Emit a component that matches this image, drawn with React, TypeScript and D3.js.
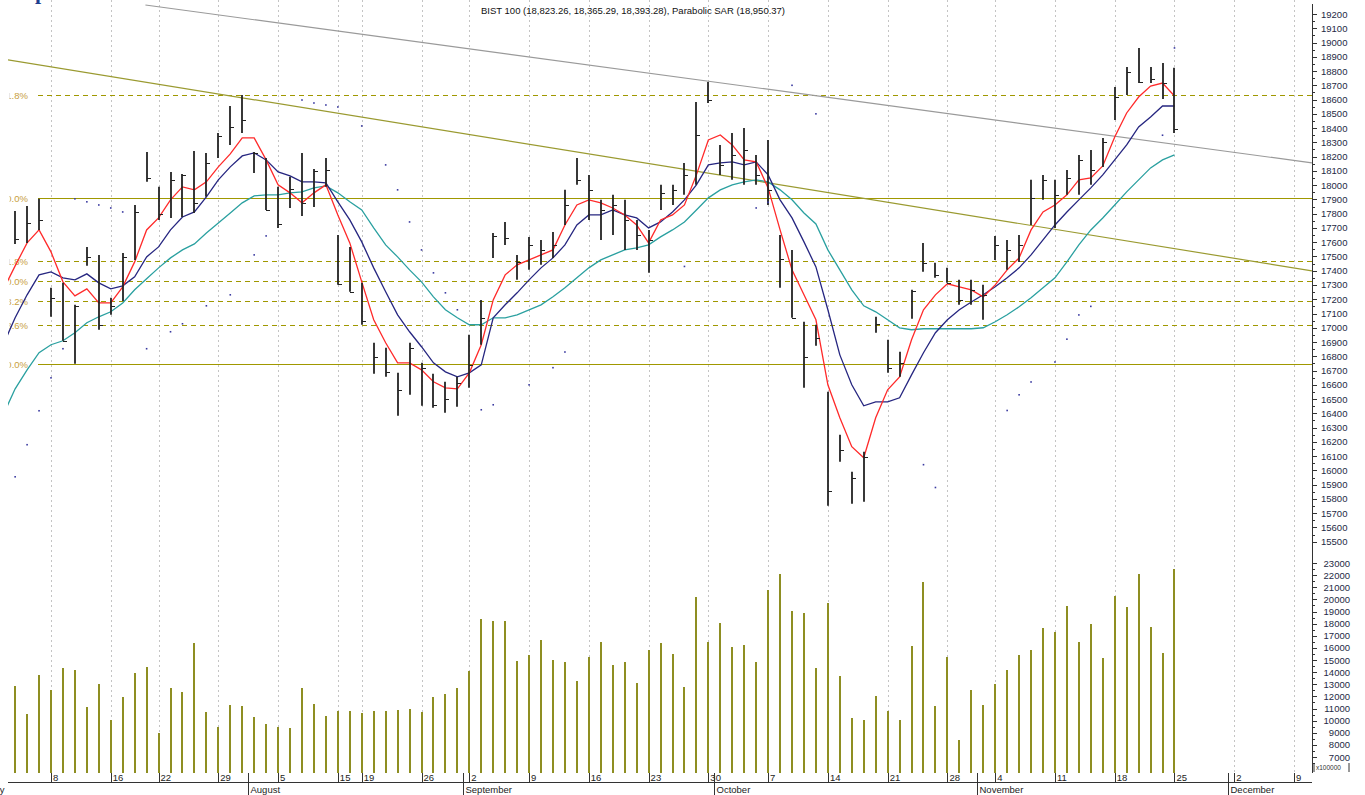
import { line, range, scaleLinear } from "d3";

// trading-day index 0 = 8 July; ticks on the first day of each week
const weekDays = [0, 5, 9, 14, 19, 24, 26, 31, 35, 40, 45, 50, 55, 60, 65, 70, 75, 79, 84, 89, 94, 99, 104];
const weekLabels = ["8", "16", "22", "29", "5", "15", "19", "26", "2", "9", "16", "23", "30", "7", "14", "21", "28", "4", "11", "18", "25", "2", "9"];
const monthDays = [-5, 17, 35, 56, 78, 99];
const monthLabels = ["July", "August", "September", "October", "November", "December"];

const firstBar = -3;
const highs = [17819, 17854, 17904, 17280, 17315, 17161, 17567, 17511, 17210, 17525, 17861, 18233, 17988, 18093, 18079, 18240, 18226, 18366, 18555, 18632, 18233, 18191, 17988, 18058, 18226, 18114, 18191, 17651, 17567, 17315, 16895, 16860, 16684, 16895, 16754, 16677, 16621, 16656, 16951, 17195, 17665, 17742, 17511, 17637, 17616, 17672, 17967, 18191, 18072, 17897, 17932, 17897, 17756, 17686, 18002, 18002, 18156, 18583, 18723, 18282, 18366, 18401, 18212, 18317, 17651, 17546, 17042, 17021, 16551, 16250, 15991, 16131, 17077, 16916, 16832, 17266, 17595, 17455, 17420, 17336, 17336, 17301, 17644, 17616, 17651, 18037, 18072, 18037, 18107, 18212, 18247, 18331, 18688, 18829, 18962, 18829, 18857, 18823];
const lows = [17588, 17595, 17686, 17077, 16909, 16747, 17434, 16986, 17091, 17188, 17476, 18023, 17756, 17770, 17777, 17805, 17918, 18191, 18282, 18366, 18086, 17826, 17700, 17840, 17784, 17847, 17988, 17301, 17252, 17021, 16677, 16656, 16383, 16530, 16453, 16439, 16404, 16446, 16579, 16881, 17490, 17581, 17336, 17406, 17441, 17490, 17721, 18002, 17756, 17616, 17651, 17546, 17546, 17385, 17826, 17861, 17932, 18002, 18576, 18072, 18037, 18002, 18002, 17861, 17280, 17070, 16579, 16874, 15752, 16061, 15766, 15780, 16965, 16684, 16656, 17063, 17392, 17350, 17315, 17161, 17161, 17056, 17476, 17406, 17462, 17721, 17897, 17700, 17932, 17932, 18002, 18128, 18457, 18632, 18716, 18716, 18604, 18365];
const closes = [17623, 17735, 17756, 17210, 16909, 17154, 17497, 17021, 17154, 17497, 17812, 18051, 17798, 18037, 18072, 17876, 18156, 18345, 18408, 18457, 18226, 17826, 17728, 17974, 17876, 18100, 18107, 17308, 17252, 17049, 16796, 16691, 16565, 16860, 16719, 16460, 16502, 16614, 16740, 17070, 17644, 17630, 17462, 17581, 17546, 17581, 17861, 18037, 17967, 17826, 17861, 17756, 17651, 17616, 17946, 17967, 18072, 18352, 18597, 18142, 18212, 18247, 18072, 17967, 17483, 17070, 16796, 16930, 15857, 16145, 15948, 16096, 17028, 16719, 16754, 17259, 17455, 17371, 17315, 17195, 17266, 17231, 17581, 17546, 17581, 17911, 18037, 17932, 18051, 18177, 18107, 18303, 18618, 18794, 18723, 18744, 18716, 18393];

// averages start one day before the first bar
const firstAvg = -4;
const fastAvg = [17266, 17434, 17595, 17686, 17532, 17322, 17224, 17273, 17174, 17174, 17287, 17462, 17686, 17770, 17897, 17988, 17967, 18023, 18128, 18219, 18331, 18331, 18177, 18002, 17946, 17876, 17946, 18002, 17791, 17595, 17322, 17056, 16895, 16754, 16754, 16705, 16621, 16579, 16572, 16684, 16881, 17195, 17371, 17441, 17476, 17511, 17546, 17721, 17861, 17897, 17876, 17840, 17791, 17721, 17595, 17756, 17791, 17861, 18072, 18317, 18352, 18282, 18177, 18163, 17981, 17686, 17406, 17231, 17056, 16600, 16369, 16166, 16089, 16369, 16565, 16656, 16916, 17126, 17231, 17308, 17287, 17266, 17217, 17301, 17406, 17490, 17686, 17812, 17861, 17932, 18037, 18051, 18135, 18338, 18506, 18618, 18695, 18716, 18625];
const midAvg = [16881, 17070, 17231, 17371, 17392, 17350, 17336, 17378, 17315, 17273, 17294, 17357, 17497, 17567, 17686, 17777, 17812, 17918, 18037, 18128, 18205, 18226, 18177, 18093, 18065, 18023, 18023, 18016, 17883, 17756, 17602, 17420, 17252, 17091, 16972, 16867, 16754, 16691, 16656, 16684, 16740, 17070, 17161, 17245, 17336, 17420, 17490, 17581, 17721, 17791, 17791, 17826, 17791, 17770, 17700, 17742, 17812, 17897, 18002, 18142, 18156, 18163, 18142, 18163, 18072, 17897, 17770, 17602, 17427, 17126, 16810, 16600, 16453, 16481, 16481, 16509, 16670, 16825, 16965, 17056, 17126, 17181, 17231, 17287, 17350, 17420, 17511, 17616, 17721, 17812, 17897, 17981, 18072, 18177, 18282, 18408, 18478, 18555, 18555];
const slowAvg = [16390, 16572, 16705, 16825, 16881, 16909, 16965, 17035, 17077, 17112, 17174, 17266, 17343, 17420, 17490, 17546, 17588, 17665, 17735, 17805, 17876, 17925, 17932, 17932, 17946, 17953, 17981, 17995, 17946, 17883, 17826, 17700, 17581, 17497, 17406, 17322, 17217, 17126, 17070, 17021, 17021, 17070, 17070, 17091, 17126, 17161, 17217, 17280, 17350, 17420, 17476, 17511, 17546, 17560, 17581, 17637, 17686, 17742, 17826, 17911, 17967, 18002, 18023, 18037, 18023, 17967, 17897, 17805, 17728, 17546, 17406, 17266, 17154, 17112, 17056, 17000, 16986, 16993, 16993, 16993, 16993, 16993, 17000, 17042, 17091, 17147, 17210, 17280, 17350, 17462, 17581, 17686, 17770, 17861, 17953, 18037, 18121, 18177, 18212];

const sarDays = [-3, -2, -1, 0, 1, 2, 3, 4, 5, 6, 8, 10, 11, 13, 15, 17, 18, 21, 22, 23, 24, 26, 28, 29, 30, 31, 32, 33, 34, 36, 37, 40, 42, 43, 53, 59, 60, 62, 64, 73, 74, 80, 81, 82, 84, 85, 86, 87, 93, 94];
const sarValues = [15955, 16180, 16418, 16649, 16853, 17904, 17883, 17861, 17840, 17812, 16853, 16972, 17028, 17154, 17231, 17511, 17644, 18597, 18576, 18562, 18548, 18415, 18142, 17967, 17742, 17546, 17385, 17245, 17126, 16425, 16460, 16600, 16720, 16830, 17430, 17840, 17880, 18700, 18500, 16040, 15880, 16420, 16530, 16620, 16760, 16920, 17090, 17150, 18350, 18962];

// volume in units of 100000, one per bar
const volumes = [
  12856, 10546, 13763, 12526, 14340, 14175, 11124, 13021, 10052, 11948, 13928, 14423, 8979, 12691, 12361, 16402,
  10711, 9474, 11289, 11206, 10299, 9722, 9474, 9392, 12691, 11371, 10381, 10794, 10794, 10629, 10794, 10794,
  10876, 10959, 10711, 11948, 12196, 12691, 14093, 18381, 18217, 18217, 14918, 15412, 16649, 15000, 14835, 13268,
  15247, 16485, 14588, 14835, 13103, 15825, 16402, 15495, 12773, 20196, 16485, 18052, 16072, 16237, 14835, 20773,
  22093, 19041, 18876, 14340, 19701, 13680, 10217, 10052, 12031, 10794, 10052, 16155, 21433, 11206, 15247, 8402,
  12526, 11289, 13021, 14175, 15412, 15825, 17639, 17309, 19454, 16485, 17969, 15165, 20278, 19371, 22093, 17722,
  15577, 22505,
];

const fibLow = 16745;
const fibHigh = 17911;
const fibRatios = [0, 0.236, 0.382, 0.5, 0.618, 1, 1.618];
const fibLabels = ["0.0%", "23.6%", "38.2%", "50.0%", "61.8%", "100.0%", "161.8%"];

const trendGrey = [{ day: 7.9, value: 19263 }, { day: 105.5, value: 18156 }];
const trendOlive = [{ day: -3.6, value: 18878 }, { day: 105.5, value: 17399 }];

const priceTicks = range(15500, 19201, 100);
const volumeTicks = range(7000, 23001, 1000);

export default function App() {
  const width = 1365;
  const height = 795;
  const plotLeft = 8;
  const axisX = 1312;
  const baseY = 773;
  const font = "'Liberation Sans', Arial, sans-serif";

  const x = scaleLinear().domain([0, 104]).range([51, 1294]);
  const yP = scaleLinear().domain([15500, 19200]).range([541.7, 14]);
  const yV = scaleLinear().domain([7000, 23000]).range([757, 563]);

  const avgPath = (vals: number[]) =>
    line<number>()
      .x((_, i) => x(i + firstAvg))
      .y((v) => yP(v))(vals) ?? "";

  const trendPath = (pts: { day: number; value: number }[]) =>
    line<{ day: number; value: number }>()
      .x((d) => x(d.day))
      .y((d) => yP(d.value))(pts) ?? "";

  return (
    <div style={{ position: "absolute", left: 0, top: 0 }}>
      <svg width={width} height={height} viewBox={`0 0 ${width} ${height}`} style={{ display: "block", background: "#fff" }}>
        <defs>
          <clipPath id="plot">
            <rect x={plotLeft} y={0} width={axisX - plotLeft} height={baseY} />
          </clipPath>
          <clipPath id="fibText">
            <rect x={9.5} y={0} width={40} height={baseY} />
          </clipPath>
        </defs>

        {/* cut-off page heading */}
        <text x={35} y={-1} fontSize={22} fontWeight="bold" fontFamily="'Liberation Serif', serif" fill="#1f3f8f">
          p
        </text>

        {/* weekly grid */}
        {weekDays.map((d) => (
          <line key={`g${d}`} x1={Math.round(x(d)) + 0.5} x2={Math.round(x(d)) + 0.5} y1={0} y2={baseY} stroke="#c4c4c4" strokeDasharray="2 3" />
        ))}

        <g clipPath="url(#plot)">
          {/* fibonacci levels */}
          {fibRatios.map((r, i) => {
            const yy = Math.round(yP(fibLow + r * (fibHigh - fibLow))) + 0.5;
            const solid = r === 0 || r === 1;
            return (
              <g key={`f${i}`}>
                <line
                  x1={38}
                  x2={axisX}
                  y1={yy}
                  y2={yy}
                  stroke="#a09800"
                  strokeWidth={solid ? 1.4 : 1}
                  strokeDasharray={solid ? undefined : "5 4"}
                  shapeRendering="crispEdges"
                />
                <text x={28} y={yy + 3.5} textAnchor="end" fontSize={9.5} fontFamily={font} fill="#c8a040" clipPath="url(#fibText)">
                  {fibLabels[i]}
                </text>
              </g>
            );
          })}

          <path d={trendPath(trendGrey)} fill="none" stroke="#9a9a9a" strokeWidth={1.2} />
          <path d={trendPath(trendOlive)} fill="none" stroke="#9a9a30" strokeWidth={1.2} />

          <path d={avgPath(slowAvg)} fill="none" stroke="#2aa0a0" strokeWidth={1.3} />
          <path d={avgPath(midAvg)} fill="none" stroke="#262680" strokeWidth={1.3} />
          <path d={avgPath(fastAvg)} fill="none" stroke="#ff2a2a" strokeWidth={1.3} />

          {/* HLC bars */}
          {highs.map((h, i) => {
            const cx = Math.round(x(i + firstBar));
            const cy = Math.round(yP(closes[i])) + 0.5;
            return (
              <g key={`b${i}`}>
                <line x1={cx} x2={cx} y1={yP(h)} y2={yP(lows[i])} stroke="#222" strokeWidth={1.8} />
                <line x1={cx} x2={cx + 4} y1={cy} y2={cy} stroke="#222" strokeWidth={1} />
              </g>
            );
          })}

          {sarDays.map((d, i) => (
            <rect key={`s${i}`} x={x(d) - 0.8} y={yP(sarValues[i]) - 0.8} width={1.6} height={1.6} fill="#3a3aa0" />
          ))}

          {/* volume */}
          {volumes.map((v, i) => (
            <line key={`v${i}`} x1={Math.round(x(i + firstBar))} x2={Math.round(x(i + firstBar))} y1={yV(v)} y2={baseY} stroke="#8e8e22" strokeWidth={2} />
          ))}
        </g>

        {/* right axis */}
        <line x1={axisX + 0.5} x2={axisX + 0.5} y1={4} y2={baseY} stroke="#333" />
        {range(15500, 19201, 50).map((v) => (
          <line key={`pm${v}`} x1={axisX} x2={axisX + (v % 100 === 0 ? 5 : 3)} y1={Math.round(yP(v)) + 0.5} y2={Math.round(yP(v)) + 0.5} stroke="#333" />
        ))}
        {priceTicks.map((v) => (
          <text key={`pt${v}`} x={1321} y={yP(v) + 3.5} fontSize={9.5} fontFamily={font} fill="#1e2a44">
            {v}
          </text>
        ))}
        {range(6500, 23001, 500).map((v) => (
          <line key={`vm${v}`} x1={axisX} x2={axisX + (v % 1000 === 0 ? 5 : 3)} y1={Math.round(yV(v)) + 0.5} y2={Math.round(yV(v)) + 0.5} stroke="#333" />
        ))}
        {volumeTicks.map((v) => (
          <text key={`vt${v}`} x={1350} y={yV(v) + 3.5} textAnchor="end" fontSize={9.5} fontFamily={font} fill="#1e2a44">
            {v}
          </text>
        ))}
        <text x={1316} y={770} fontSize={6.5} fontFamily={font} fill="#333">x100000</text>
        <line x1={1314} x2={1314} y1={763} y2={772} stroke="#333" />
        <line x1={1349} x2={1349} y1={763} y2={772} stroke="#333" />

        {/* date axis */}
        <line x1={plotLeft} x2={axisX} y1={782.5} y2={782.5} stroke="#333" />
        {weekDays.map((d, i) => (
          <g key={`w${d}`}>
            <line x1={Math.round(x(d)) + 0.5} x2={Math.round(x(d)) + 0.5} y1={773} y2={782} stroke="#333" />
            <text x={x(d) + 2} y={781} fontSize={9.5} fontFamily={font} fill="#222">
              {weekLabels[i]}
            </text>
          </g>
        ))}
        {monthDays.map((d, i) => {
          const mx = Math.round(x(d) - 6) + 0.5;
          return (
            <g key={`m${d}`}>
              <line x1={mx} x2={mx} y1={773} y2={795} stroke="#333" />
              <text x={mx + 2} y={793} fontSize={9.5} fontFamily={font} fill="#222">
                {monthLabels[i]}
              </text>
            </g>
          );
        })}

        <text x={481} y={14} fontSize={9.5} fontFamily={font} fill="#111">
          BIST 100 (18,823.26, 18,365.29, 18,393.28), Parabolic SAR (18,950.37)
        </text>
      </svg>
    </div>
  );
}
